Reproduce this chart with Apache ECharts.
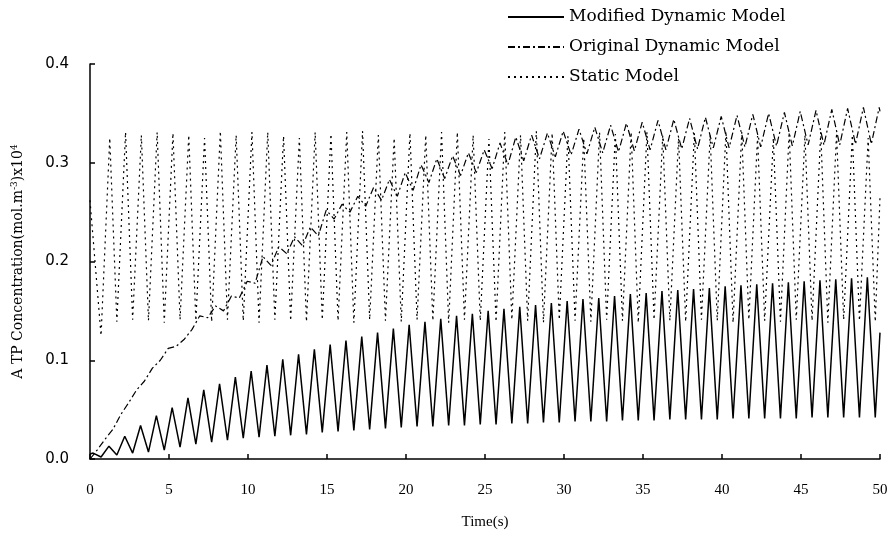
<!DOCTYPE html>
<html>
<head>
<meta charset="utf-8">
<script src="https://cdn.jsdelivr.net/npm/echarts@6/dist/echarts.min.js"></script>
<style>
  html, body { margin: 0; padding: 0; background: #fff; }
  #chart { width: 892px; height: 534px; }
</style>
</head>
<body>
<div id="chart"></div>
<script>
// ATP concentration vs time for three models. Each model oscillates with a ~1 s cycle;
// values are listed per cycle (one peak and one trough per second).

const xTicks = [0, 5, 10, 15, 20, 25, 30, 35, 40, 45, 50];
const yTicks = [0.0, 0.1, 0.2, 0.3, 0.4];

const seriesNames = ['Modified Dynamic Model', 'Original Dynamic Model', 'Static Model'];

// Modified dynamic model: peaks at t = n + 0.2 s, troughs at t = n + 0.7 s (n = 0..49)
const modifiedStart = 0.005;
const modifiedPeaks = [
  0.006, 0.013, 0.023, 0.034, 0.044, 0.052, 0.062, 0.070, 0.076, 0.083,
  0.089, 0.095, 0.101, 0.106, 0.111, 0.116, 0.120, 0.124, 0.128, 0.132,
  0.136, 0.139, 0.142, 0.145, 0.147, 0.150, 0.152, 0.154, 0.156, 0.158,
  0.160, 0.162, 0.163, 0.165, 0.167, 0.168, 0.170, 0.171, 0.172, 0.173,
  0.175, 0.176, 0.177, 0.178, 0.179, 0.180, 0.181, 0.182, 0.183, 0.184
];
const modifiedTroughs = [
  0.002, 0.004, 0.006, 0.007, 0.009, 0.012, 0.015, 0.017, 0.019, 0.021,
  0.022, 0.023, 0.024, 0.025, 0.027, 0.028, 0.029, 0.030, 0.031, 0.032,
  0.033, 0.033, 0.034, 0.034, 0.035, 0.035, 0.036, 0.036, 0.037, 0.037,
  0.038, 0.038, 0.038, 0.039, 0.039, 0.039, 0.040, 0.040, 0.040, 0.040,
  0.041, 0.041, 0.041, 0.041, 0.041, 0.042, 0.042, 0.042, 0.042, 0.042
];
const modifiedEnd = 0.128;

// Original dynamic model: troughs at t = n + 0.45 s, peaks at t = n + 0.95 s
const originalStart = 0.0;
const originalTroughs = [
  0.009, 0.030, 0.057, 0.079, 0.100, 0.114, 0.131, 0.143, 0.150, 0.163,
  0.178, 0.196, 0.208, 0.216, 0.226, 0.243, 0.250, 0.256, 0.262, 0.266,
  0.272, 0.280, 0.284, 0.287, 0.290, 0.294, 0.298, 0.302, 0.304, 0.306,
  0.308, 0.309, 0.310, 0.311, 0.312, 0.313, 0.313, 0.314, 0.314, 0.315,
  0.315, 0.316, 0.316, 0.317, 0.317, 0.318, 0.318, 0.318, 0.319, 0.319
];
const originalPeaks = [
  0.020, 0.045, 0.070, 0.092, 0.112, 0.121, 0.145, 0.155, 0.165, 0.180,
  0.205, 0.215, 0.225, 0.235, 0.252, 0.258, 0.266, 0.275, 0.283, 0.290,
  0.298, 0.304, 0.307, 0.310, 0.313, 0.320, 0.326, 0.328, 0.330, 0.332,
  0.334, 0.336, 0.338, 0.340, 0.341, 0.343, 0.344, 0.345, 0.346, 0.347,
  0.348, 0.349, 0.350, 0.351, 0.352, 0.353, 0.354, 0.355, 0.356, 0.356
];
const originalEnd = 0.352;

// Static model: peaks at t = n + 0.25 s (from n = 1), troughs at t = n + 0.7 s
const staticStart = 0.262;
const staticPeaks = [
  null,  0.325, 0.331, 0.328, 0.331, 0.330, 0.328, 0.325, 0.332, 0.328,
  0.331, 0.331, 0.327, 0.325, 0.331, 0.329, 0.331, 0.332, 0.328, 0.325,
  0.330, 0.328, 0.331, 0.331, 0.328, 0.324, 0.331, 0.328, 0.332, 0.330,
  0.327, 0.325, 0.331, 0.329, 0.331, 0.331, 0.328, 0.325, 0.330, 0.328,
  0.332, 0.331, 0.327, 0.325, 0.331, 0.328, 0.331, 0.330, 0.328, 0.325
];
const staticTroughs = [
  0.125, 0.139, 0.141, 0.140, 0.138, 0.141, 0.140, 0.139, 0.141, 0.140,
  0.138, 0.141, 0.140, 0.139, 0.141, 0.140, 0.138, 0.141, 0.140, 0.139,
  0.141, 0.140, 0.138, 0.141, 0.140, 0.139, 0.141, 0.140, 0.138, 0.141,
  0.140, 0.139, 0.141, 0.140, 0.138, 0.141, 0.140, 0.139, 0.141, 0.140,
  0.138, 0.141, 0.140, 0.139, 0.141, 0.140, 0.138, 0.141, 0.140, 0.139
];
const staticEnd = 0.265;

const duration = 50;

// Assemble [time, value] pairs cycle by cycle from the per-cycle extremes.
function buildWave(start, firstList, firstOffset, secondList, secondOffset, end) {
  const pts = [[0, start]];
  for (let n = 0; n < firstList.length; n++) {
    if (firstList[n] != null) pts.push([n + firstOffset, firstList[n]]);
    if (secondList[n] != null) pts.push([n + secondOffset, secondList[n]]);
  }
  pts.push([duration, end]);
  return pts;
}

const modifiedData = buildWave(modifiedStart, modifiedPeaks, 0.2, modifiedTroughs, 0.7, modifiedEnd);
const originalData = buildWave(originalStart, originalTroughs, 0.45, originalPeaks, 0.95, originalEnd);
const staticData = buildWave(staticStart, staticPeaks, 0.25, staticTroughs, 0.7, staticEnd);

const chart = echarts.init(document.getElementById('chart'), null, { renderer: 'canvas' });

const axisColor = '#000';
const serif = 'Liberation Serif';

chart.setOption({
  animation: false,
  backgroundColor: '#fff',
  color: ['#000', '#000', '#000'],
  grid: { left: 90, right: 12, top: 64, bottom: 75, containLabel: false, outerBoundsMode: 'none' },
  legend: {
    orient: 'vertical',
    left: 502,
    top: 2,
    itemWidth: 56,
    itemHeight: 14,
    itemGap: 10,
    data: seriesNames,
    itemStyle: { opacity: 0 },
    textStyle: { fontFamily: 'DejaVu Serif', fontSize: 17, color: '#000', lineHeight: 20 }
  },
  xAxis: {
    type: 'value',
    min: xTicks[0],
    max: xTicks[xTicks.length - 1],
    interval: 5,
    name: 'Time(s)',
    nameLocation: 'middle',
    nameGap: 56,
    nameTextStyle: { fontFamily: serif, fontSize: 15, color: '#000' },
    axisLine: { lineStyle: { color: axisColor, width: 1.5 } },
    axisTick: { inside: true, length: 5, lineStyle: { color: axisColor, width: 1.5 } },
    axisLabel: { margin: 24, fontFamily: serif, fontSize: 15, color: '#000' },
    splitLine: { show: false }
  },
  yAxis: {
    type: 'value',
    min: yTicks[0],
    max: yTicks[yTicks.length - 1],
    interval: 0.1,
    name: 'A TP Concentration(mol.m{sup|-3})x10{sup|4}',
    nameLocation: 'middle',
    nameGap: 63,
    nameRotate: 90,
    nameTextStyle: {
      fontFamily: 'DejaVu Serif', fontSize: 14, color: '#000',
      rich: { sup: { fontFamily: 'DejaVu Serif', fontSize: 9, color: '#000', verticalAlign: 'top', padding: [0, 0, 8, 0] } }
    },
    axisLine: { lineStyle: { color: axisColor, width: 1.5 } },
    axisTick: { inside: true, length: 5, lineStyle: { color: axisColor, width: 1.5 } },
    axisLabel: {
      margin: 21, fontFamily: 'DejaVu Sans', fontSize: 15, color: '#000',
      formatter: v => v.toFixed(1)
    },
    splitLine: { show: false }
  },
  series: [
    {
      name: seriesNames[2],
      type: 'line',
      data: staticData,
      symbol: 'none',
      z: 2,
      itemStyle: { color: '#000' },
      lineStyle: { color: '#000', width: 1.2, type: [2, 4] }
    },
    {
      name: seriesNames[1],
      type: 'line',
      data: originalData,
      symbol: 'none',
      z: 3,
      itemStyle: { color: '#000' },
      lineStyle: { color: '#000', width: 1.2, type: [7, 3, 2, 3] }
    },
    {
      name: seriesNames[0],
      type: 'line',
      data: modifiedData,
      symbol: 'none',
      z: 4,
      itemStyle: { color: '#000' },
      lineStyle: { color: '#000', width: 1.5 }
    }
  ]
});
</script>
</body>
</html>
